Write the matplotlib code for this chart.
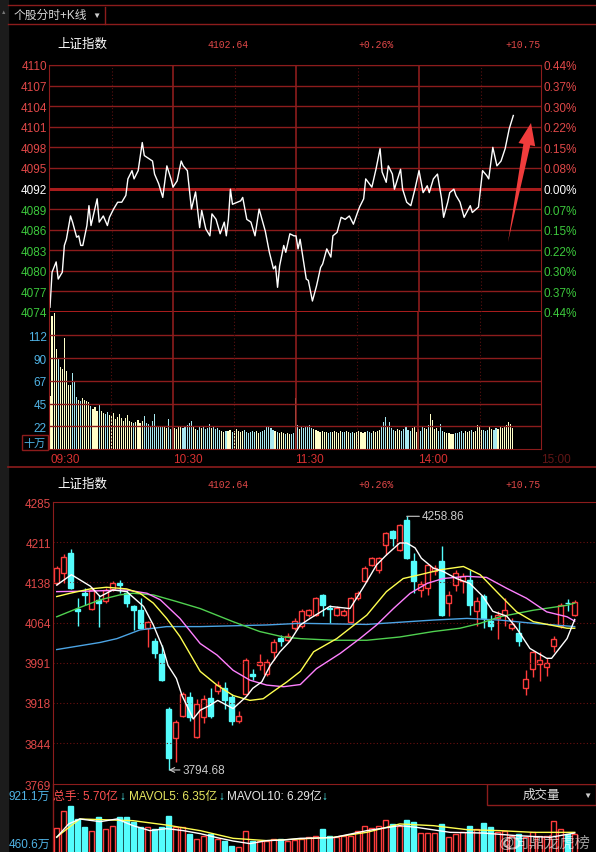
import numpy as np
import matplotlib.pyplot as plt
from matplotlib.patches import Rectangle, Polygon, Ellipse

plt.rcParams['font.family'] = ['Liberation Sans', 'DejaVu Sans', 'Noto Sans CJK SC']

W, H = 596, 853

# header info
index_name = '上证指数'
last_price = '4102.64'
change_pct = '+0.26%'
change_pts = '+10.75'

# ---- intraday (分时) ----
price_levels = [4110, 4107, 4104, 4101, 4098, 4095, 4092, 4089, 4086, 4083, 4080, 4077, 4074]
pct_labels = ['0.44%', '0.37%', '0.30%', '0.22%', '0.15%', '0.08%', '0.00%',
              '0.07%', '0.15%', '0.22%', '0.30%', '0.37%', '0.44%']
prev_close = 4092
time_ticks = [0, 60, 120, 180, 240]
time_labels = ['09:30', '10:30', '11:30', '14:00', '15:00']

line_min = [0, 1, 3, 4, 6, 7, 8, 10, 11, 13, 14, 15, 16, 18, 19, 20, 23, 24, 26, 28,
            29, 31, 33, 35, 37, 38, 40, 41, 43, 45, 46, 50, 51, 53, 55, 57, 59, 60, 62, 64,
            65, 67, 69, 71, 73, 74, 76, 78, 79, 81, 83, 85, 86, 87, 88, 89, 93, 94, 96, 98,
            100, 102, 105, 107, 109, 110, 111, 112, 114, 115, 117, 119, 120, 121, 122, 123, 125, 126, 128, 130,
            132, 133, 135, 137, 138, 140, 142, 144, 146, 148, 150, 151, 153, 154, 157, 159, 161, 162, 164, 165,
            167, 168, 171, 172, 174, 176, 178, 180, 182, 184, 185, 187, 189, 191, 192, 194, 195, 197, 198, 200,
            202, 205, 206, 209, 211, 213, 214, 216, 218, 220, 222, 224, 226]
line_price = [4074.7, 4079.8, 4081.3, 4078.8, 4079.8, 4083.7, 4084.6, 4088.0, 4087.1, 4084.9,
              4085.1, 4083.7, 4083.7, 4086.6, 4089.5, 4086.6, 4090.5, 4087.1, 4088.0, 4086.6,
              4087.8, 4089.0, 4090.0, 4090.0, 4091.0, 4093.4, 4094.6, 4093.4, 4094.6, 4098.7,
              4096.8, 4096.0, 4094.1, 4092.7, 4090.7, 4095.3, 4093.4, 4092.2, 4093.1, 4096.0,
              4095.3, 4094.6, 4089.0, 4091.5, 4086.3, 4088.8, 4086.1, 4085.1, 4088.3, 4087.5,
              4085.4, 4087.1, 4085.1, 4087.5, 4091.9, 4089.7, 4090.2, 4090.7, 4087.5, 4087.1,
              4085.1, 4089.0, 4085.8, 4082.7, 4080.3, 4080.7, 4077.6, 4080.7, 4083.7, 4082.7,
              4085.4, 4085.1, 4085.1, 4083.2, 4084.6, 4082.7, 4078.8, 4078.6, 4075.6, 4077.8,
              4080.5, 4081.0, 4083.2, 4082.0, 4085.1, 4085.6, 4087.8, 4087.5, 4088.0, 4086.8,
              4088.5, 4089.3, 4090.5, 4093.4, 4092.2, 4094.8, 4097.8, 4094.4, 4092.9, 4095.3,
              4094.1, 4091.9, 4094.8, 4091.9, 4090.0, 4089.5, 4091.9, 4094.6, 4091.4, 4092.4,
              4091.4, 4093.4, 4094.1, 4090.5, 4087.8, 4090.0, 4091.4, 4091.9, 4091.0, 4090.0,
              4087.8, 4089.5, 4088.5, 4089.3, 4094.6, 4093.9, 4093.4, 4098.0, 4095.3, 4096.0,
              4097.8, 4100.7, 4102.64]

# minute volume, 十万
minute_vol = [52, 132, 135, 99, 89, 81, 79, 110, 77, 63, 63, 75, 67,
              51, 48, 47, 50, 48, 47, 46, 43, 40, 42, 38, 45, 38,
              36, 35, 37, 34, 33, 36, 30, 32, 35, 31, 28, 31, 34, 28, 27,
              26, 27, 29, 26, 28, 33, 26, 25, 23, 28, 35, 23, 22, 22, 23, 22, 21, 30, 20, 22,
              21, 20, 22, 23, 21, 22, 24, 26, 28, 22, 20, 19, 22, 21, 22, 20, 21, 25, 21, 22,
              20, 21, 19, 18, 17, 18, 18, 19, 17, 18, 20, 18, 17, 18, 19, 17, 16, 17, 18, 17,
              18, 16, 17, 18, 19, 22, 22, 21, 19, 18, 17, 16, 17, 16, 15, 16, 15, 15, 16,
              50,
              24, 20, 22, 21, 23, 22, 24, 21, 20, 19, 18, 17, 18, 17, 17, 16, 17, 17, 18, 17,
              16, 18, 17, 17, 18, 17, 16, 17, 16, 17, 18, 17, 16, 17, 18, 17, 16, 18, 17, 18, 19, 22,
              27, 32, 22, 27, 21, 19, 18, 20,
              19, 18, 20, 23, 19, 18, 21, 23, 17,
              20, 18, 22, 21, 20, 24, 35, 29, 20, 21, 18,
              25, 18, 17, 16, 16, 15, 15, 16, 16, 17, 18, 16,
              18, 17, 18, 19, 17, 18, 24, 23, 19, 19,
              18, 19, 22, 20, 19, 21, 20, 22, 21, 23, 24, 27, 25, 21]
vol_ticks = [22.5, 45, 67.5, 90, 112.5]
vol_labels = ['22', '45', '67', '90', '112']

# ---- daily K-line ----
k_open = [4136, 4155, 4191, 4089, 4118, 4090, 4105, 4103, 4125, 4136,
          4118, 4094, 4087, 4055, 4030, 4006, 3907, 3853, 3894, 3929,
          3855, 3892, 3927, 3940, 3944, 3929, 3885, 3934, 3970, 3986,
          3971, 4010, 4036, 4032, 4055, 4059, 4078, 4078, 4114, 4091,
          4078, 4078, 4066, 4109, 4140, 4169, 4160, 4206, 4232, 4197,
          4252, 4177, 4124, 4127, 4158, 4177, 4100, 4133, 4140, 4143,
          4085, 4113, 4068, 4072, 4078, 4054, 4046, 3944, 3980, 3988,
          3984, 4022, 4059, 4101, 4078]
k_high = [4168, 4190, 4199, 4109, 4127, 4130, 4114, 4128, 4140, 4143,
          4124, 4097, 4109, 4068, 4037, 4024, 3910, 3886, 3937, 3937,
          3925, 3931, 3945, 3957, 3955, 3933, 3903, 3999, 3979, 4007,
          3997, 4035, 4042, 4045, 4072, 4090, 4090, 4112, 4116, 4096,
          4094, 4089, 4112, 4122, 4167, 4185, 4184, 4230, 4234, 4245,
          4258.86, 4191, 4140, 4172, 4170, 4204, 4122, 4160, 4155, 4160,
          4112, 4116, 4078, 4085, 4109, 4072, 4066, 3977, 4013, 4011,
          3999, 4040, 4100, 4107, 4105]
k_low = [4133, 4136, 4125, 4059, 4096, 4088, 4057, 4100, 4122, 4118,
         4092, 4050, 4053, 4020, 3999, 3958, 3794.68, 3809, 3892, 3885,
         3853, 3881, 3890, 3933, 3907, 3877, 3880, 3932, 3960, 3978,
         3967, 3996, 4022, 4028, 4050, 4055, 4075, 4076, 4076, 4063,
         4076, 4076, 4064, 4105, 4138, 4167, 4155, 4188, 4205, 4195,
         4180, 4118, 4112, 4114, 4152, 4076, 4076, 4122, 4118, 4078,
         4059, 4055, 4050, 4035, 4059, 4050, 4021, 3931, 3965, 3958,
         3966, 4011, 4055, 4085, 4076]
k_close = [4165, 4184, 4127, 4085, 4114, 4124, 4101, 4124, 4137, 4133,
           4101, 4087, 4054, 4065, 4008, 3960, 3817, 3883, 3934, 3892,
           3916, 3925, 3894, 3951, 3922, 3885, 3894, 3995, 3966, 3993,
           3993, 4028, 4031, 4040, 4068, 4085, 4087, 4109, 4096, 4090,
           4091, 4085, 4109, 4118, 4164, 4182, 4182, 4228, 4219, 4243,
           4182, 4140, 4135, 4169, 4164, 4078, 4114, 4155, 4149, 4096,
           4103, 4072, 4059, 4078, 4087, 4061, 4030, 3962, 4011, 3995,
           3990, 4035, 4096, 4100, 4102.64]
k_vol = [627, 804, 854, 721, 641, 604, 741, 621, 654, 741,
         741, 691, 641, 641, 621, 641, 754, 641, 641, 571,
         521, 554, 571, 521, 504, 454, 437, 604, 504, 504,
         504, 521, 521, 504, 510, 521, 537, 554, 621, 554,
         537, 547, 554, 604, 654, 627, 647, 714, 671, 654,
         714, 688, 581, 581, 581, 671, 537, 571, 587, 654,
         621, 681, 641, 587, 604, 554, 571, 537, 587, 554,
         554, 697, 621, 571, 570]
k_ticks = [4285, 4211, 4138, 4064, 3991, 3918, 3844, 3769]

ma5_i = [0, 2.1, 4.8, 6.2, 8, 10, 12.4, 13.8, 15.2, 15.9, 17.1, 17.9, 19.5, 20.5, 21.9, 23,
         25.2, 27.1, 28, 29.3, 30.5, 31.9, 33.3, 34.8, 36.2, 39, 41.9, 44, 45.7, 47.1, 49, 50,
         51.2, 52.1, 53.8, 55.2, 57.1, 59, 60.9, 62.3, 64.3, 65.7, 67.6, 70, 70.7, 72.9, 74]
ma5_v = [4133, 4152, 4131, 4112, 4124, 4121, 4094, 4060, 4017, 3986, 3962, 3931, 3888, 3904,
         3913, 3922, 3907, 3929, 3944, 3956, 3986, 4011, 4030, 4060, 4072, 4094, 4090, 4133,
         4170, 4188, 4210, 4210, 4201, 4182, 4164, 4158, 4145, 4136, 4112, 4085, 4076, 4054,
         4017, 3999, 3999, 4035, 4070]
ma10_i = [0, 1.9, 4.8, 7.1, 10, 11.9, 13.8, 15.7, 17.6, 18.6, 20.5, 22.9, 25.2, 27.6, 29.5,
          30.9, 32.9, 34.8, 36.7, 40, 44.3, 47.1, 49.5, 51.9, 54.8, 58.1, 60.5, 63.3, 65.7,
          68.1, 70.5, 72.9, 74]
ma10_v = [4112, 4118, 4126, 4129, 4126, 4118, 4100, 4072, 4039, 4017, 3975, 3950, 3931, 3922,
          3925, 3938, 3956, 3975, 4011, 4035, 4078, 4121, 4145, 4152, 4161, 4167, 4152, 4115,
          4084, 4066, 4060, 4054, 4054]
ma20_i = [0, 4.8, 10, 12.9, 14.8, 17.6, 20.5, 22.9, 25.2, 27.6, 30, 32.4, 34.8, 37.1, 40.5,
          43.3, 45.7, 48.1, 50.5, 52.9, 55.2, 58.6, 61.4, 64.3, 67.1, 70, 72.9, 74]
ma20_v = [4121, 4122, 4124, 4118, 4106, 4072, 4026, 4005, 3977, 3959, 3950, 3947, 3951, 3980,
          4008, 4035, 4060, 4090, 4118, 4136, 4145, 4149, 4147, 4127, 4109, 4084, 4075, 4067]
ma30_i = [0, 2.9, 6.2, 9, 10.9, 13.8, 17.1, 20.5, 25.2, 29, 32.4, 34.8, 39.5, 44.3, 49, 53.8,
          57.6, 60.5, 63.3, 68.1, 72.9, 74]
ma30_v = [4075, 4090, 4106, 4115, 4118, 4115, 4103, 4090, 4066, 4048, 4038, 4035, 4032, 4032,
          4038, 4048, 4054, 4063, 4075, 4087, 4096, 4100]
ma60_i = [0, 6.2, 8.6, 11.9, 15.7, 20.5, 30, 34.8, 44.3, 53.8, 58.6, 63.3, 68.1, 74]
ma60_v = [4015, 4028, 4035, 4051, 4057, 4057, 4060, 4063, 4061, 4069, 4072, 4069, 4063, 4057]

mv5_i = [0, 1.7, 3.3, 6.2, 8.6, 10.9, 13.3, 15.7, 18.1, 20.5, 22.9, 25.2, 27.6, 30, 32.4,
         34.8, 39.5, 44.3, 49, 51.4, 56.2, 60.9, 65.7, 70.5, 74]
mv5_v = [537, 671, 721, 694, 721, 654, 604, 624, 604, 574, 534, 500, 474, 504, 510,
         527, 534, 604, 654, 637, 587, 580, 554, 537, 580]
mv10_i = [0, 3.3, 10.9, 15.7, 20.5, 25.2, 30, 34.8, 39.5, 44.3, 49, 53.8, 58.6, 63.3, 68.1, 74]
mv10_v = [541, 721, 704, 660, 604, 527, 504, 521, 537, 587, 671, 654, 614, 604, 587, 587]

# colours
GRID = '#8c1c1c'
RED = '#ff3c3c'
CYAN = '#54fcfc'
TXT_RED = '#e04848'
GREEN = '#3cc83c'
VOLBLUE = '#50b4e6'


def rect(x0, y0, x1, y1):
    return [x0 / W, 1 - y1 / H, (x1 - x0) / W, (y1 - y0) / H]


fig = plt.figure(figsize=(W / 100, H / 100), dpi=100, facecolor='black')

bg = fig.add_axes([0, 0, 1, 1])
bg.set_xlim(0, W)
bg.set_ylim(H, 0)
bg.axis('off')
bg.add_patch(Rectangle((0, 0), 8, H, color='#1c1c1c'))
bg.text(4, 12, '▲', color='#777777', fontsize=4, ha='center', va='center')
bg.plot([8, W], [6, 6], color=GRID, lw=1)
bg.plot([8, W], [25, 25], color=GRID, lw=1)
bg.plot([105, 105], [8, 25], color=GRID, lw=1)
bg.text(14, 16, '个股分时+K线', color='#d8d8d8', fontsize=8.5, va='center')
bg.text(96, 16, '▼', color='#cccccc', fontsize=6, ha='center', va='center')
bg.plot([8, W], [468, 468], color=GRID, lw=1.2)


def header(y):
    bg.text(57, y, index_name, color='white', fontsize=9, va='center')
    for x, s in [(207, last_price), (358, change_pct), (505, change_pts)]:
        bg.text(x, y, s, color=TXT_RED, fontsize=7, family='Liberation Mono', va='center')


header(45)
header(485)

# ---- intraday price panel ----
ax1 = fig.add_axes(rect(49, 66, 541, 313))
ax1.set_facecolor('black')
ax1.set_xlim(-0.49, 239.5)
ax1.set_ylim(price_levels[-1], price_levels[0])
for lv in price_levels:
    thick = lv in (prev_close, price_levels[-1])
    ax1.axhline(lv, color='#a81c1c' if thick else GRID, lw=2.2 if thick else 1)
for m in (60, 120, 180):
    ax1.axvline(m, color=GRID, lw=1.2)
for m in (30, 90, 150, 210):
    ax1.axvline(m, color='#5a1010', lw=0.8, ls=(0, (1, 2)))
ax1.plot(line_min, line_price, color='white', lw=1)
ax1.set_xticks([])
ax1.set_yticks(price_levels)
ax1.set_yticklabels([str(v) for v in price_levels])
for lab, v in zip(ax1.get_yticklabels(), price_levels):
    lab.set_color('white' if v == prev_close else (TXT_RED if v > prev_close else GREEN))
ax1.tick_params(axis='y', length=0, pad=1.5, labelsize=8.5)
for s in ax1.spines.values():
    s.set_color(GRID)

ax1r = ax1.twinx()
ax1r.set_ylim(price_levels[-1], price_levels[0])
ax1r.set_yticks(price_levels)
ax1r.set_yticklabels(pct_labels)
for lab, v in zip(ax1r.get_yticklabels(), price_levels):
    lab.set_color('white' if v == prev_close else (TXT_RED if v > prev_close else GREEN))
ax1r.tick_params(axis='y', length=0, pad=1.5, labelsize=8.5)
for s in ax1r.spines.values():
    s.set_visible(False)

# ---- intraday volume panel ----
ax2 = fig.add_axes(rect(49, 313, 541, 450))
ax2.set_facecolor('black')
ax2.set_xlim(-0.49, 239.5)
ax2.set_ylim(0, 135.5)
for lv in vol_ticks:
    ax2.axhline(lv, color=GRID, lw=1)
for m in (60, 120, 180):
    ax2.axvline(m, color=GRID, lw=1.2)
for m in (30, 90, 150, 210):
    ax2.axvline(m, color='#5a1010', lw=0.8, ls=(0, (1, 2)))
mins = np.arange(len(minute_vol))
p_at = np.interp(mins, line_min, line_price)
up = np.diff(p_at, prepend=p_at[0]) >= 0
ax2.bar(mins, minute_vol, width=0.55, color=np.where(up, '#ffffc8', '#a8e8f0'))
ax2.set_yticks(vol_ticks)
ax2.set_yticklabels(vol_labels)
ax2.tick_params(axis='y', length=0, pad=1.5, labelsize=8.5, labelcolor=VOLBLUE)
ax2.set_xticks(time_ticks)
ax2.set_xticklabels(time_labels)
ax2.tick_params(axis='x', length=0, pad=3, labelsize=8.5, labelcolor='#d83030')
for lab in ax2.get_xticklabels():
    lab.set_horizontalalignment('left')
ax2.get_xticklabels()[-1].set_alpha(0.45)
for s in ax2.spines.values():
    s.set_color(GRID)
ax2.spines['top'].set_visible(False)
bg.add_patch(Rectangle((22, 436), 26, 15, fill=False, ec=GRID, lw=1))
bg.text(35, 443.5, '十万', color=VOLBLUE, fontsize=8, ha='center', va='center')

# ---- daily K-line panel ----
ax3 = fig.add_axes(rect(53, 503, 596, 785))
ax3.set_facecolor('black')
ax3.set_xlim(-0.53, 77.04)
ax3.set_ylim(k_ticks[-1], k_ticks[0])
for lv in k_ticks[1:-1]:
    ax3.axhline(lv, color='#6a1010', lw=0.8, ls=(0, (1, 2)))
bw = 0.7
for i, (o, h, l, c) in enumerate(zip(k_open, k_high, k_low, k_close)):
    if c >= o:
        ax3.vlines(i, c, h, color=RED, lw=1)
        ax3.vlines(i, l, o, color=RED, lw=1)
        ax3.add_patch(Rectangle((i - bw / 2, o), bw, max(c - o, 0.8), fc='black', ec=RED, lw=1))
    else:
        ax3.vlines(i, l, h, color=CYAN, lw=1)
        ax3.add_patch(Rectangle((i - bw / 2, c), bw, o - c, fc=CYAN, ec=CYAN, lw=1))
ax3.plot(ma60_i, ma60_v, color='#4ca4e4', lw=1)
ax3.plot(ma30_i, ma30_v, color='#50d050', lw=1)
ax3.plot(ma20_i, ma20_v, color='#ff80ff', lw=1)
ax3.plot(ma10_i, ma10_v, color='#ffff50', lw=1)
ax3.plot(ma5_i, ma5_v, color='white', lw=1)
hi = int(np.argmax(k_high))
lo = int(np.argmin(k_low))
ax3.annotate(f'{k_high[hi]:.2f}', xy=(hi, k_high[hi]), xytext=(hi + 2.2, k_high[hi]),
             color='#cccccc', fontsize=8.5, va='center',
             arrowprops=dict(arrowstyle='-', color='#cccccc', lw=0.8, shrinkA=0, shrinkB=0))
ax3.annotate(f'{k_low[lo]:.2f}', xy=(lo, k_low[lo]), xytext=(lo + 2.0, k_low[lo]),
             color='#cccccc', fontsize=8.5, va='center',
             arrowprops=dict(arrowstyle='->', color='#cccccc', lw=0.8, shrinkA=0, shrinkB=0))
ax3.set_xticks([])
ax3.set_yticks(k_ticks)
ax3.set_yticklabels([str(v) for v in k_ticks])
ax3.tick_params(axis='y', length=0, pad=1.5, labelsize=8.5, labelcolor=TXT_RED)
for s in ax3.spines.values():
    s.set_color(GRID)
ax3.spines['right'].set_visible(False)

# ---- daily volume panel ----
bg.plot([53, 53], [785, H], color=GRID, lw=1)
bg.text(53, 797, '总手: 5.70亿', color='#ff5050', fontsize=8.5, va='center')
bg.text(119, 797, '↓', color=CYAN, fontsize=8.5, va='center')
bg.text(129, 797, 'MAVOL5: 6.35亿', color='#e8e860', fontsize=8.5, va='center')
bg.text(218, 797, '↓', color=CYAN, fontsize=8.5, va='center')
bg.text(227, 797, 'MAVOL10: 6.29亿', color='#e8e8e8', fontsize=8.5, va='center')
bg.text(321, 797, '↓', color=CYAN, fontsize=8.5, va='center')
bg.add_patch(Rectangle((487, 785), 109, 21, fill=False, ec=GRID, lw=1))
bg.text(541, 796, '成交量', color='#dddddd', fontsize=9, ha='center', va='center')
bg.text(587, 796, '▼', color='#cccccc', fontsize=6, ha='center', va='center')
bg.text(50, 797, '921.1万', color=VOLBLUE, fontsize=8.5, ha='right', va='center')
bg.text(50, 845, '460.6万', color=VOLBLUE, fontsize=8.5, ha='right', va='center')

ax4 = fig.add_axes(rect(53, 805, 596, 853))
ax4.set_facecolor('black')
ax4.set_xlim(-0.53, 77.04)
ax4.set_ylim(390, 871)
for i, (o, c, v) in enumerate(zip(k_open, k_close, k_vol)):
    if c >= o:
        ax4.add_patch(Rectangle((i - bw / 2, 0), bw, v, fc='black', ec=RED, lw=1))
    else:
        ax4.add_patch(Rectangle((i - bw / 2, 0), bw, v, fc=CYAN, ec=CYAN, lw=1))
ax4.plot(mv10_i, mv10_v, color='#ffff50', lw=1)
ax4.plot(mv5_i, mv5_v, color='white', lw=1)
ax4.axis('off')

# ---- overlay: arrow + watermark ----
top = fig.add_axes([0, 0, 1, 1])
top.set_xlim(0, W)
top.set_ylim(H, 0)
top.axis('off')
p0 = np.array([508.0, 243.0])
p1 = np.array([531.0, 124.0])
u = (p1 - p0) / np.linalg.norm(p1 - p0)
n = np.array([-u[1], u[0]])
pb = p1 - u * 22
top.add_patch(Polygon([p0, pb + n * 3.5, pb + n * 8.5, p1, pb - n * 8.5, pb - n * 3.5],
                      closed=True, color='#f03c3c', lw=0))
top.add_patch(Ellipse((512, 844), 15, 11, fill=False, ec='white', lw=1.5, alpha=0.55))
top.text(591, 843, '@向鼎龙虎榜', color='white', alpha=0.6, fontsize=11, ha='right', va='center')

fig.savefig('out.png', dpi=100, facecolor='black')
